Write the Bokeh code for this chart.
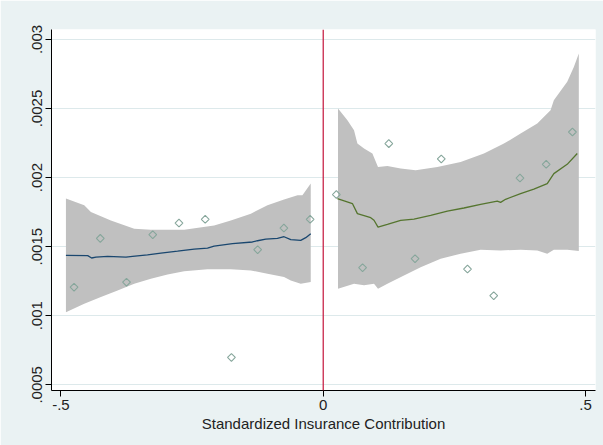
import math
from bokeh.plotting import figure
from bokeh.models import FixedTicker, Span, Range1d
from bokeh.embed import file_html
from bokeh.resources import INLINE

# Binned scatter points
left_x = [-0.475, -0.425, -0.375, -0.325, -0.275, -0.225, -0.175, -0.125, -0.075, -0.025]
left_y = [0.001207, 0.00156, 0.001243, 0.001587, 0.001671, 0.001698, 0.000698, 0.001478, 0.001635, 0.001698]
right_x = [0.025, 0.075, 0.125, 0.175, 0.225, 0.275, 0.325, 0.375, 0.425, 0.475]
right_y = [0.001877, 0.001348, 0.002246, 0.001413, 0.002135, 0.001338, 0.001145, 0.001997, 0.002096, 0.00233]

# Left fit line
lfit_x = [-0.4905, -0.449, -0.4415, -0.4333, -0.411, -0.376, -0.3635, -0.335, -0.3095, -0.2777,
          -0.246, -0.2206, -0.208, -0.173, -0.135, -0.1253, -0.1095, -0.0873, -0.0747, -0.0619,
          -0.0429, -0.0333, -0.0238]
lfit_y = [0.001437, 0.001435, 0.001418, 0.001425, 0.00143, 0.001425, 0.00143, 0.00144, 0.001454, 0.001468,
          0.001483, 0.00149, 0.001504, 0.001522, 0.001534, 0.001543, 0.001555, 0.00156, 0.001572, 0.001551,
          0.001546, 0.001565, 0.001594]
# Left CI band
lup_x = [-0.4905, -0.4556, -0.4429, -0.4048, -0.3603, -0.3286, -0.2651, -0.208, -0.1762, -0.138,
         -0.1063, -0.0747, -0.049, -0.0397, -0.0238]
lup_y = [0.001848, 0.001799, 0.001751, 0.00169, 0.00163, 0.001623, 0.001623, 0.001654, 0.00169, 0.001739,
         0.001799, 0.001841, 0.001872, 0.001872, 0.001957]
llo_x = [-0.4905, -0.4556, -0.4238, -0.392, -0.3603, -0.3286, -0.2968, -0.2651, -0.2206, -0.1762,
         -0.138, -0.1063, -0.0747, -0.0619, -0.0429, -0.0238]
llo_y = [0.001026, 0.001087, 0.001135, 0.001183, 0.001232, 0.001268, 0.001299, 0.001323, 0.001336, 0.001336,
         0.001328, 0.001304, 0.00128, 0.001256, 0.001232, 0.001244]

# Right fit line
rfit_x = [0.027, 0.0556, 0.0651, 0.0905, 0.0968, 0.1044, 0.1223, 0.1476, 0.173, 0.2048, 0.2366,
          0.2682, 0.3, 0.3318, 0.3381, 0.3476, 0.3762, 0.4015, 0.427, 0.4396, 0.465, 0.4842]
rfit_y = [0.001848, 0.001812, 0.001739, 0.00171, 0.001691, 0.001642, 0.001662, 0.001691, 0.0017, 0.001727,
          0.001758, 0.00178, 0.001807, 0.00183, 0.001821, 0.001843, 0.001884, 0.001917, 0.001957, 0.002029,
          0.002096, 0.002174]
# Right CI band
rup_x = [0.0282, 0.0461, 0.0587, 0.0651, 0.0778, 0.0937, 0.1044, 0.1223, 0.1476, 0.1762, 0.2175,
         0.2619, 0.3063, 0.3444, 0.3762, 0.408, 0.4333, 0.4396, 0.4651, 0.4777, 0.4872]
rup_y = [0.0025, 0.002415, 0.002343, 0.002246, 0.00221, 0.002174, 0.002077, 0.002084, 0.002065, 0.002053,
         0.002077, 0.002113, 0.002174, 0.002246, 0.002319, 0.002391, 0.002488, 0.00256, 0.002693, 0.002801,
         0.002899]
rlo_x = [0.0282, 0.0587, 0.0778, 0.0968, 0.1044, 0.1223, 0.1539, 0.1857, 0.2238, 0.2619, 0.3,
         0.3381, 0.3762, 0.408, 0.427, 0.4396, 0.4651, 0.4872]
rlo_y = [0.001196, 0.001232, 0.00122, 0.001232, 0.001196, 0.001232, 0.001292, 0.001352, 0.001413, 0.001449,
         0.001478, 0.001473, 0.001478, 0.001473, 0.001449, 0.001478, 0.001478, 0.001468]

y_ticks = [0.0005, 0.001, 0.0015, 0.002, 0.0025, 0.003]
y_labels = [".0005", ".001", ".0015", ".002", ".0025", ".003"]
x_ticks = [-0.5, 0, 0.5]
x_labels = ["-.5", "0", ".5"]

BG = "#EAF2F3"
FONT = "Liberation Sans"

p = figure(width=603, height=445, output_backend="svg", toolbar_location=None,
           x_range=Range1d(-0.518, 0.519), y_range=Range1d(0.000459, 0.003072),
           min_border_left=51, min_border_right=8, min_border_top=29, min_border_bottom=55)
p.background_fill_color = "white"
p.border_fill_color = BG
p.outline_line_color = None

# bands
p.patch(lup_x + llo_x[::-1], lup_y + llo_y[::-1], fill_color="#C0C0C0", line_color=None)
p.patch(rup_x + rlo_x[::-1], rup_y + rlo_y[::-1], fill_color="#C0C0C0", line_color=None)

# fit lines
p.line(lfit_x, lfit_y, line_color="#1A476F", line_width=1.3)
p.line(rfit_x, rfit_y, line_color="#55752F", line_width=1.3)

# scatter (hollow diamonds)
p.scatter(left_x, left_y, marker="square", size=5.5, angle=math.pi / 4,
          fill_color=None, line_color="#86A69B", line_width=1.1)
p.scatter(right_x, right_y, marker="square", size=5.5, angle=math.pi / 4,
          fill_color=None, line_color="#86A69B", line_width=1.1)

# cutoff line
p.add_layout(Span(location=0, dimension="height", line_color="#C8264A", line_width=1.3))

# axes
p.xaxis.ticker = FixedTicker(ticks=x_ticks)
p.xaxis.major_label_overrides = dict(zip(x_ticks, x_labels))
p.yaxis.ticker = FixedTicker(ticks=y_ticks)
p.yaxis.major_label_overrides = dict(zip(y_ticks, y_labels))
p.yaxis.major_label_orientation = "vertical"
p.xaxis.axis_label = "Standardized Insurance Contribution"

for ax in (p.xaxis[0], p.yaxis[0]):
    ax.axis_line_color = "black"
    ax.axis_line_width = 1
    ax.major_tick_line_color = "black"
    ax.major_tick_out = 6
    ax.major_tick_in = 0
    ax.minor_tick_line_color = None
    ax.major_label_text_font = FONT
    ax.major_label_text_font_size = "15px"
    ax.major_label_text_color = "#222222"
    ax.major_label_standoff = 3
p.xaxis.axis_label_text_font = FONT
p.xaxis.axis_label_text_font_size = "15px"
p.xaxis.axis_label_text_font_style = "normal"
p.xaxis.axis_label_text_color = "#222222"
p.xaxis.axis_label_standoff = 2

p.xgrid.grid_line_color = None
p.ygrid.grid_line_color = "#DDE9EB"
p.ygrid.grid_line_width = 1

open("out.html", "w").write(file_html(p, INLINE))
